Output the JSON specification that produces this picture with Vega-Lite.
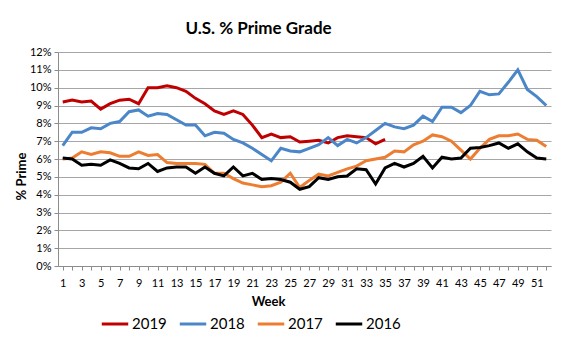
{
  "$schema": "https://vega.github.io/schema/vega-lite/v6.json",
  "autosize": {"type": "none"},
  "width": 493,
  "height": 214,
  "padding": {"left": 58, "top": 52, "right": 11, "bottom": 82},
  "background": "white",
  "title": {
    "text": "U.S. % Prime Grade",
    "font": "Lato",
    "fontSize": 17,
    "fontWeight": "bold",
    "color": "#000000",
    "anchor": "middle",
    "dx": -46,
    "offset": 8
  },
  "data": {
    "values": [
      {"year":"2019","week":1,"pct":9.2},{"year":"2019","week":2,"pct":9.3},{"year":"2019","week":3,"pct":9.2},{"year":"2019","week":4,"pct":9.25},{"year":"2019","week":5,"pct":8.8},
      {"year":"2019","week":6,"pct":9.1},{"year":"2019","week":7,"pct":9.3},{"year":"2019","week":8,"pct":9.35},{"year":"2019","week":9,"pct":9.1},{"year":"2019","week":10,"pct":10.0},
      {"year":"2019","week":11,"pct":10.0},{"year":"2019","week":12,"pct":10.1},{"year":"2019","week":13,"pct":10.0},{"year":"2019","week":14,"pct":9.8},{"year":"2019","week":15,"pct":9.4},
      {"year":"2019","week":16,"pct":9.1},{"year":"2019","week":17,"pct":8.7},{"year":"2019","week":18,"pct":8.5},{"year":"2019","week":19,"pct":8.7},{"year":"2019","week":20,"pct":8.5},
      {"year":"2019","week":21,"pct":7.9},{"year":"2019","week":22,"pct":7.2},{"year":"2019","week":23,"pct":7.4},{"year":"2019","week":24,"pct":7.2},{"year":"2019","week":25,"pct":7.25},
      {"year":"2019","week":26,"pct":6.95},{"year":"2019","week":27,"pct":7.0},{"year":"2019","week":28,"pct":7.05},{"year":"2019","week":29,"pct":6.9},{"year":"2019","week":30,"pct":7.2},
      {"year":"2019","week":31,"pct":7.3},{"year":"2019","week":32,"pct":7.25},{"year":"2019","week":33,"pct":7.2},{"year":"2019","week":34,"pct":6.85},{"year":"2019","week":35,"pct":7.1},

      {"year":"2018","week":1,"pct":6.75},{"year":"2018","week":2,"pct":7.5},{"year":"2018","week":3,"pct":7.5},{"year":"2018","week":4,"pct":7.75},{"year":"2018","week":5,"pct":7.7},
      {"year":"2018","week":6,"pct":8.0},{"year":"2018","week":7,"pct":8.1},{"year":"2018","week":8,"pct":8.65},{"year":"2018","week":9,"pct":8.75},{"year":"2018","week":10,"pct":8.4},
      {"year":"2018","week":11,"pct":8.55},{"year":"2018","week":12,"pct":8.5},{"year":"2018","week":13,"pct":8.2},{"year":"2018","week":14,"pct":7.9},{"year":"2018","week":15,"pct":7.9},
      {"year":"2018","week":16,"pct":7.3},{"year":"2018","week":17,"pct":7.5},{"year":"2018","week":18,"pct":7.45},{"year":"2018","week":19,"pct":7.1},{"year":"2018","week":20,"pct":6.9},
      {"year":"2018","week":21,"pct":6.6},{"year":"2018","week":22,"pct":6.25},{"year":"2018","week":23,"pct":5.9},{"year":"2018","week":24,"pct":6.6},{"year":"2018","week":25,"pct":6.45},
      {"year":"2018","week":26,"pct":6.4},{"year":"2018","week":27,"pct":6.6},{"year":"2018","week":28,"pct":6.8},{"year":"2018","week":29,"pct":7.2},{"year":"2018","week":30,"pct":6.75},
      {"year":"2018","week":31,"pct":7.1},{"year":"2018","week":32,"pct":6.9},{"year":"2018","week":33,"pct":7.2},{"year":"2018","week":34,"pct":7.6},{"year":"2018","week":35,"pct":8.0},
      {"year":"2018","week":36,"pct":7.8},{"year":"2018","week":37,"pct":7.7},{"year":"2018","week":38,"pct":7.9},{"year":"2018","week":39,"pct":8.4},{"year":"2018","week":40,"pct":8.1},
      {"year":"2018","week":41,"pct":8.9},{"year":"2018","week":42,"pct":8.9},{"year":"2018","week":43,"pct":8.6},{"year":"2018","week":44,"pct":9.0},{"year":"2018","week":45,"pct":9.8},
      {"year":"2018","week":46,"pct":9.6},{"year":"2018","week":47,"pct":9.65},{"year":"2018","week":48,"pct":10.3},{"year":"2018","week":49,"pct":11.0},{"year":"2018","week":50,"pct":9.9},
      {"year":"2018","week":51,"pct":9.5},{"year":"2018","week":52,"pct":9.0},

      {"year":"2017","week":1,"pct":6.0},{"year":"2017","week":2,"pct":6.05},{"year":"2017","week":3,"pct":6.4},{"year":"2017","week":4,"pct":6.25},{"year":"2017","week":5,"pct":6.4},
      {"year":"2017","week":6,"pct":6.35},{"year":"2017","week":7,"pct":6.15},{"year":"2017","week":8,"pct":6.15},{"year":"2017","week":9,"pct":6.4},{"year":"2017","week":10,"pct":6.2},
      {"year":"2017","week":11,"pct":6.25},{"year":"2017","week":12,"pct":5.8},{"year":"2017","week":13,"pct":5.75},{"year":"2017","week":14,"pct":5.75},{"year":"2017","week":15,"pct":5.75},
      {"year":"2017","week":16,"pct":5.7},{"year":"2017","week":17,"pct":5.2},{"year":"2017","week":18,"pct":5.2},{"year":"2017","week":19,"pct":4.9},{"year":"2017","week":20,"pct":4.65},
      {"year":"2017","week":21,"pct":4.55},{"year":"2017","week":22,"pct":4.45},{"year":"2017","week":23,"pct":4.5},{"year":"2017","week":24,"pct":4.7},{"year":"2017","week":25,"pct":5.2},
      {"year":"2017","week":26,"pct":4.4},{"year":"2017","week":27,"pct":4.8},{"year":"2017","week":28,"pct":5.15},{"year":"2017","week":29,"pct":5.05},{"year":"2017","week":30,"pct":5.25},
      {"year":"2017","week":31,"pct":5.45},{"year":"2017","week":32,"pct":5.6},{"year":"2017","week":33,"pct":5.9},{"year":"2017","week":34,"pct":6.0},{"year":"2017","week":35,"pct":6.1},
      {"year":"2017","week":36,"pct":6.45},{"year":"2017","week":37,"pct":6.4},{"year":"2017","week":38,"pct":6.8},{"year":"2017","week":39,"pct":7.0},{"year":"2017","week":40,"pct":7.35},
      {"year":"2017","week":41,"pct":7.25},{"year":"2017","week":42,"pct":7.0},{"year":"2017","week":43,"pct":6.5},{"year":"2017","week":44,"pct":6.0},{"year":"2017","week":45,"pct":6.6},
      {"year":"2017","week":46,"pct":7.1},{"year":"2017","week":47,"pct":7.3},{"year":"2017","week":48,"pct":7.3},{"year":"2017","week":49,"pct":7.4},{"year":"2017","week":50,"pct":7.1},
      {"year":"2017","week":51,"pct":7.05},{"year":"2017","week":52,"pct":6.7},

      {"year":"2016","week":1,"pct":6.05},{"year":"2016","week":2,"pct":6.0},{"year":"2016","week":3,"pct":5.65},{"year":"2016","week":4,"pct":5.7},{"year":"2016","week":5,"pct":5.65},
      {"year":"2016","week":6,"pct":5.95},{"year":"2016","week":7,"pct":5.75},{"year":"2016","week":8,"pct":5.5},{"year":"2016","week":9,"pct":5.45},{"year":"2016","week":10,"pct":5.75},
      {"year":"2016","week":11,"pct":5.3},{"year":"2016","week":12,"pct":5.5},{"year":"2016","week":13,"pct":5.55},{"year":"2016","week":14,"pct":5.55},{"year":"2016","week":15,"pct":5.2},
      {"year":"2016","week":16,"pct":5.55},{"year":"2016","week":17,"pct":5.2},{"year":"2016","week":18,"pct":5.05},{"year":"2016","week":19,"pct":5.55},{"year":"2016","week":20,"pct":5.05},
      {"year":"2016","week":21,"pct":5.2},{"year":"2016","week":22,"pct":4.85},{"year":"2016","week":23,"pct":4.9},{"year":"2016","week":24,"pct":4.85},{"year":"2016","week":25,"pct":4.7},
      {"year":"2016","week":26,"pct":4.3},{"year":"2016","week":27,"pct":4.45},{"year":"2016","week":28,"pct":4.95},{"year":"2016","week":29,"pct":4.85},{"year":"2016","week":30,"pct":5.0},
      {"year":"2016","week":31,"pct":5.05},{"year":"2016","week":32,"pct":5.45},{"year":"2016","week":33,"pct":5.4},{"year":"2016","week":34,"pct":4.6},{"year":"2016","week":35,"pct":5.5},
      {"year":"2016","week":36,"pct":5.75},{"year":"2016","week":37,"pct":5.55},{"year":"2016","week":38,"pct":5.75},{"year":"2016","week":39,"pct":6.15},{"year":"2016","week":40,"pct":5.5},
      {"year":"2016","week":41,"pct":6.1},{"year":"2016","week":42,"pct":6.0},{"year":"2016","week":43,"pct":6.05},{"year":"2016","week":44,"pct":6.6},{"year":"2016","week":45,"pct":6.65},
      {"year":"2016","week":46,"pct":6.75},{"year":"2016","week":47,"pct":6.9},{"year":"2016","week":48,"pct":6.6},{"year":"2016","week":49,"pct":6.85},{"year":"2016","week":50,"pct":6.4},
      {"year":"2016","week":51,"pct":6.05},{"year":"2016","week":52,"pct":6.0}
    ]
  },
  "mark": {"type": "line", "strokeWidth": 3, "interpolate": "linear"},
  "encoding": {
    "x": {
      "field": "week",
      "type": "quantitative",
      "scale": {"domain": [0.5, 52.5], "nice": false, "zero": false},
      "axis": {
        "title": "Week",
        "values": [1,2,3,4,5,6,7,8,9,10,11,12,13,14,15,16,17,18,19,20,21,22,23,24,25,26,27,28,29,30,31,32,33,34,35,36,37,38,39,40,41,42,43,44,45,46,47,48,49,50,51,52],
        "labelExpr": "datum.value % 2 == 1 ? datum.label : ''",
        "labelOverlap": false,
        "grid": false,
        "domainColor": "#8c8c8c",
        "tickColor": "#8c8c8c",
        "tickSize": 4,
        "labelFont": "Lato",
        "labelFontSize": 11,
        "labelColor": "#000000",
        "labelPadding": 7,
        "titleFont": "Lato",
        "titleFontSize": 13,
        "titleFontWeight": "bold",
        "titleColor": "#000000",
        "titleX": 210,
        "titleY": 29
      }
    },
    "y": {
      "field": "pct",
      "type": "quantitative",
      "scale": {"domain": [0, 12], "nice": false},
      "axis": {
        "title": "% Prime",
        "values": [0, 1, 2, 3, 4, 5, 6, 7, 8, 9, 10, 11, 12],
        "labelExpr": "datum.value + '%'",
        "grid": true,
        "gridColor": "#a6a6a6",
        "gridWidth": 1,
        "domainColor": "#8c8c8c",
        "tickColor": "#8c8c8c",
        "tickSize": 4,
        "labelFont": "Lato",
        "labelFontSize": 11,
        "labelColor": "#000000",
        "labelPadding": 3,
        "titleFont": "Lato",
        "titleFontSize": 13,
        "titleFontWeight": "bold",
        "titleColor": "#000000",
        "titleX": -30,
        "titleY": 124
      }
    },
    "color": {
      "field": "year",
      "type": "nominal",
      "sort": ["2019", "2018", "2017", "2016"],
      "scale": {"domain": ["2019", "2018", "2017", "2016"], "range": ["#c00000", "#4a86c8", "#ed7d31", "#000000"]},
      "legend": {
        "title": null,
        "orient": "none",
        "direction": "horizontal",
        "legendX": 42,
        "legendY": 257,
        "symbolType": "stroke",
        "symbolSize": 700,
        "symbolStrokeWidth": 3,
        "labelFont": "Lato",
        "labelFontSize": 15,
        "labelColor": "#000000",
        "labelOffset": 2,
        "columnPadding": 6
      }
    },
    "order": {"field": "week", "type": "quantitative"}
  },
  "config": {
    "view": {"stroke": null}
  }
}
